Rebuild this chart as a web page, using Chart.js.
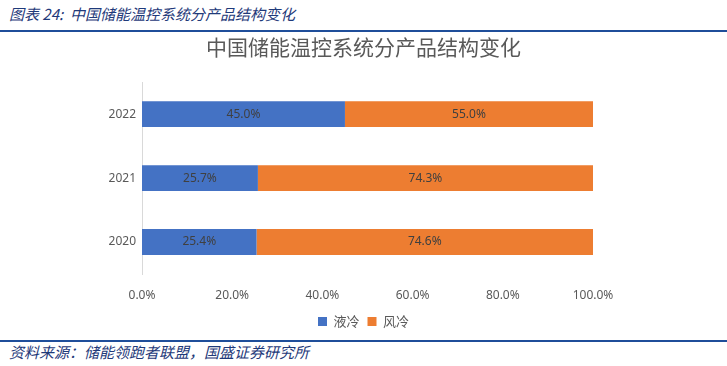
<!DOCTYPE html>
<html>
<head>
<meta charset="utf-8">
<script src="https://cdn.jsdelivr.net/npm/chart.js@4"></script>
<style>
  body { margin: 0; background: #fff; width: 727px; height: 366px; overflow: hidden; position: relative; }
  .cap { position: absolute; left: 9px; font-family: "Noto Sans CJK SC"; font-style: italic; color: #1f3a7a; font-size: 15px; white-space: nowrap; }
  .rule { position: absolute; left: 0; width: 727px; height: 2px; background: #1f4e9a; }
  #wrap { position: absolute; left: 0; top: 0; width: 727px; height: 340px; }
</style>
</head>
<body>
<div class="cap" style="top:3px">图表 24:&nbsp; 中国储能温控系统分产品结构变化</div>
<div class="rule" style="top:30px"></div>
<div id="wrap"><canvas id="c"></canvas></div>
<div class="rule" style="top:340px"></div>
<div class="cap" style="top:341px">资料来源：储能领跑者联盟，国盛证券研究所</div>
<script>
"use strict";
// ---------- data ----------
const years = ["2022", "2021", "2020"];
const liquid = [45.0, 25.7, 25.4];   // 液冷
const air = [55.0, 74.3, 74.6];      // 风冷
const xTicks = [0, 20, 40, 60, 80, 100];

// labels in the middle of each bar
const barLabels = {
  id: "barLabels",
  afterDatasetsDraw(chart) {
    let ctx = chart.ctx;
    ctx.save();
    ctx.font = "12px 'Noto Sans', sans-serif";
    ctx.fillStyle = "#404040";
    ctx.textAlign = "center";
    ctx.textBaseline = "middle";
    chart.data.datasets.forEach((ds, i) => {
      chart.getDatasetMeta(i).data.forEach((bar, j) => {
        let mid = (bar.x + bar.base) / 2;
        ctx.fillText(ds.data[j].toFixed(1) + "%", mid, bar.y);
      });
    });
    ctx.restore();
  }
};

new Chart(document.getElementById("c"), {
  type: "bar",
  data: {
    labels: years,
    datasets: [
      { label: "液冷", data: liquid, backgroundColor: "#4472c4" },
      { label: "风冷", data: air, backgroundColor: "#ed7d31" }
    ]
  },
  options: {
    indexAxis: "y",
    responsive: true,
    maintainAspectRatio: false,
    animation: false,
    barPercentage: 0.81,
    categoryPercentage: 0.5,
    layout: { padding: { left: 0, right: 0, top: 0, bottom: 2 } },
    plugins: {
      title: {
        display: true,
        text: "中国储能温控系统分产品结构变化",
        color: "#595959",
        font: { family: "Noto Sans CJK SC", size: 21, weight: "normal" },
        padding: { top: 34, bottom: 23 }
      },
      legend: {
        position: "bottom",
        labels: {
          boxWidth: 9, boxHeight: 9, color: "#595959",
          font: { family: "Noto Sans CJK SC", size: 13 }, padding: 8
        }
      },
      tooltip: { enabled: false }
    },
    scales: {
      x: {
        stacked: true,
        min: 0, max: 100,
        afterBuildTicks(scale) { scale.ticks = xTicks.map(v => ({ value: v })); },
        grid: { display: false },
        border: { display: false },
        ticks: {
          color: "#595959", padding: 6,
          font: { family: "Noto Sans", size: 12 },
          callback: v => v.toFixed(1) + "%"
        },
        afterFit(scale) { scale.height = 33; }
      },
      y: {
        stacked: true,
        grid: { display: false, drawTicks: false },
        border: { display: true, color: "#d9d9d9" },
        ticks: { color: "#595959", padding: 6, font: { family: "Noto Sans", size: 12 } },
        afterFit(scale) { scale.width = 142; }
      },
      // empty right axis, only keeps the plot area off the right edge
      yr: {
        position: "right",
        display: true,
        grid: { display: false },
        border: { display: false },
        ticks: { display: false },
        afterFit(scale) { scale.width = 134; }
      }
    }
  },
  plugins: [barLabels]
});
</script>
</body>
</html>
